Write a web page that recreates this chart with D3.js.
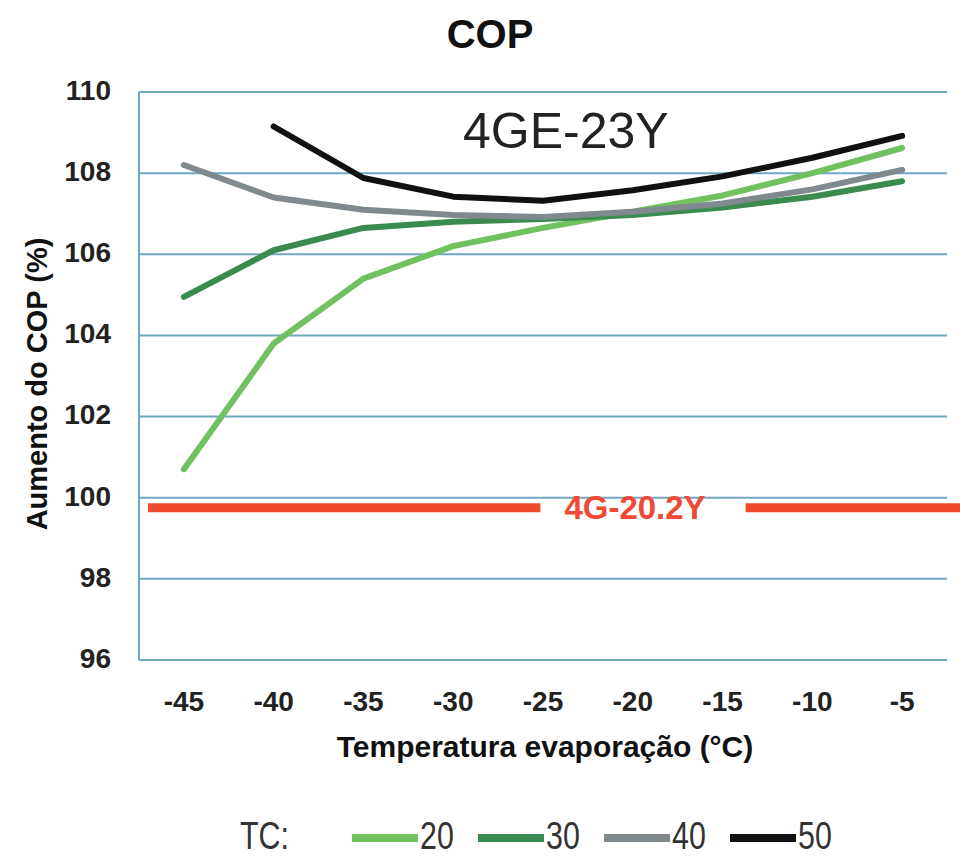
<!DOCTYPE html>
<html><head><meta charset="utf-8">
<script src="https://cdn.jsdelivr.net/npm/d3@7"></script>
<style>body{margin:0;background:#fff;}svg{display:block;font-family:"Liberation Sans",Arial,sans-serif;}</style>
</head><body>
<svg id="c" width="960" height="858"></svg>
<script>
const categories = [-45, -40, -35, -30, -25, -20, -15, -10, -5];
const tc20 = [100.7, 103.8, 105.4, 106.2, 106.65, 107.05, 107.45, 108.0, 108.62];
const tc30 = [104.95, 106.1, 106.65, 106.8, 106.87, 106.97, 107.15, 107.42, 107.8];
const tc40 = [108.2, 107.4, 107.1, 106.97, 106.92, 107.05, 107.25, 107.6, 108.08];
const tc50 = [null, 109.15, 107.88, 107.42, 107.32, 107.58, 107.92, 108.38, 108.92];
const seriesNames = ["20", "30", "40", "50"];
const seriesColors = ["#72c160", "#3b8a50", "#7f898e", "#111111"];
const yTicks = [96, 98, 100, 102, 104, 106, 108, 110];
const refValue = 99.75;
const refLabel = "4G-20.2Y";
const title = "COP";
const subtitle = "4GE-23Y";
const xTitle = "Temperatura evaporação (°C)";
const yTitle = "Aumento do COP (%)";
const legendTitle = "TC:";

(function () {
const series = [tc20, tc30, tc40, tc50];
const svg = d3.select("#c");
const W = 960;
const pL = 139, pR = 947, pT = 92, pB = 660;

const x = d3.scalePoint().domain(categories).range([pL, pR]).padding(0.5);
const y = d3.scaleLinear().domain([96, 110]).range([pB, pT]);

// grid
svg.append("g").selectAll("line").data(yTicks).join("line")
  .attr("x1", pL).attr("x2", pR)
  .attr("y1", d => y(d)).attr("y2", d => y(d))
  .attr("stroke", "#6fa8c3").attr("stroke-width", 2);
svg.append("line").attr("x1", pL).attr("x2", pL).attr("y1", y(110)).attr("y2", y(96))
  .attr("stroke", "#6fa8c3").attr("stroke-width", 2);

// y tick labels
svg.append("g").selectAll("text").data(yTicks).join("text")
  .attr("x", 111).attr("y", d => y(d) - 2).attr("dy", "0.35em")
  .attr("text-anchor", "end").attr("font-size", 28).attr("font-weight", "bold").attr("fill", "#222")
  .text(d => d);

// x tick labels
svg.append("g").selectAll("text").data(categories).join("text")
  .attr("x", d => x(d)).attr("y", 711)
  .attr("text-anchor", "middle").attr("font-size", 28).attr("font-weight", "bold").attr("fill", "#222")
  .text(d => d);

// titles
svg.append("text").attr("x", 490).attr("y", 48).attr("text-anchor", "middle")
  .attr("font-size", 40).attr("font-weight", "bold").attr("fill", "#111").text(title);
svg.append("text").attr("x", 463).attr("y", 148)
  .attr("font-size", 50).attr("fill", "#222").text(subtitle);
svg.append("text").attr("x", 545).attr("y", 757).attr("text-anchor", "middle")
  .attr("font-size", 30).attr("font-weight", "bold").attr("fill", "#111").text(xTitle);
svg.append("text").attr("transform", "translate(47,384) rotate(-90)").attr("text-anchor", "middle")
  .attr("font-size", 29).attr("font-weight", "bold").attr("fill", "#111").text(yTitle);

// reference line
const refY = y(refValue);
const lab = svg.append("text").attr("x", 635).attr("y", refY + 11).attr("text-anchor", "middle")
  .attr("font-size", 33).attr("font-weight", "bold").attr("fill", "#ee4a36").text(refLabel);
const bb = lab.node().getBBox();
svg.append("line").attr("x1", pL + 9).attr("x2", bb.x - 24).attr("y1", refY).attr("y2", refY)
  .attr("stroke", "#ef4a2c").attr("stroke-width", 9);
svg.append("line").attr("x1", bb.x + bb.width + 40).attr("x2", W).attr("y1", refY).attr("y2", refY)
  .attr("stroke", "#ef4a2c").attr("stroke-width", 9);

// series lines
const line = d3.line().defined(d => d[1] != null).x(d => x(d[0])).y(d => y(d[1]));
series.forEach((vals, i) => {
  svg.append("path").datum(categories.map((c, j) => [c, vals[j]]))
    .attr("d", line).attr("fill", "none").attr("stroke", seriesColors[i])
    .attr("stroke-width", 6).attr("stroke-linejoin", "round").attr("stroke-linecap", "round");
});

// legend
const lg = svg.append("g");
lg.append("text").attr("transform", "translate(240,849) scale(0.8,1)")
  .attr("font-size", 38).attr("fill", "#333").text(legendTitle);
const legX = [352, 478, 604, 730];
seriesNames.forEach((n, i) => {
  lg.append("line").attr("x1", legX[i]).attr("x2", legX[i] + 66).attr("y1", 838).attr("y2", 838)
    .attr("stroke", seriesColors[i]).attr("stroke-width", 8);
  lg.append("text").attr("transform", `translate(${legX[i] + 68},849) scale(0.8,1)`)
    .attr("font-size", 38).attr("fill", "#333").text(n);
});
})();
</script>
</body></html>
